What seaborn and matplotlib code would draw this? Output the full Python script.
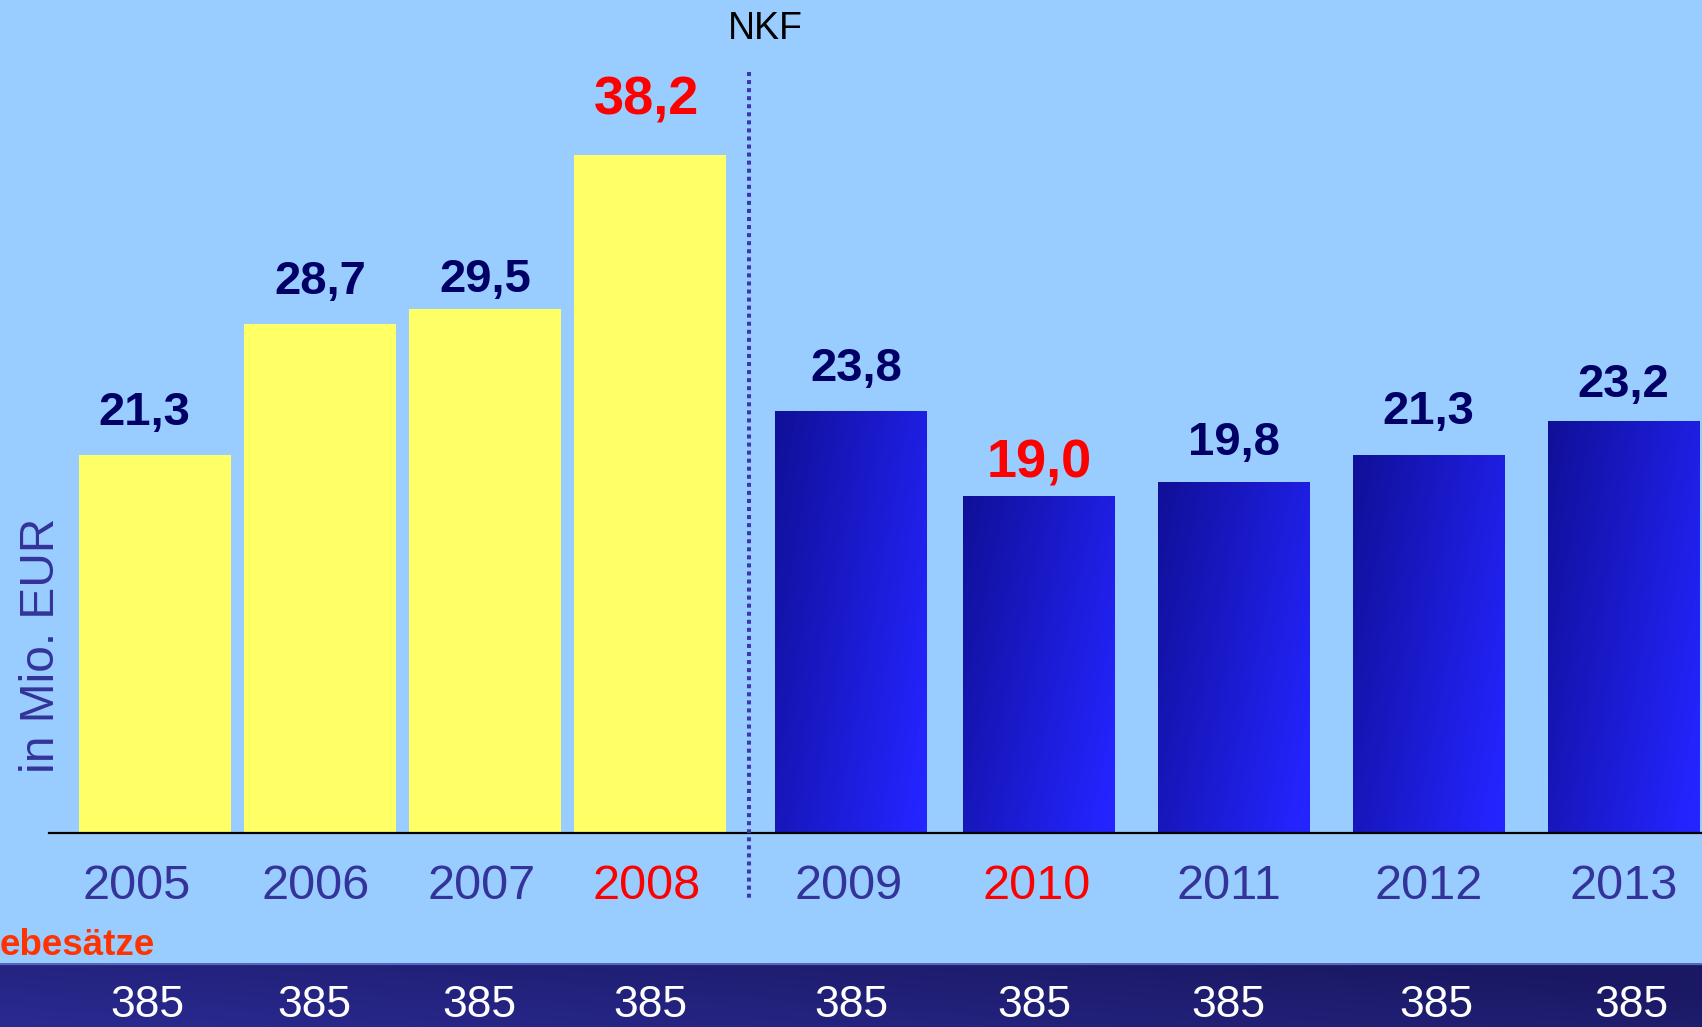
import numpy as np
import pandas as pd
import matplotlib
matplotlib.use("Agg")
import matplotlib.pyplot as plt
import matplotlib.transforms as mtransforms
import seaborn as sns

# ---------------- data ----------------
years = ["2005", "2006", "2007", "2008", "2009", "2010", "2011", "2012", "2013"]
values = [21.3, 28.7, 29.5, 38.2, 23.8, 19.0, 19.8, 21.3, 23.2]
value_labels = ["21,3", "28,7", "29,5", "38,2", "23,8", "19,0", "19,8", "21,3", "23,2"]
era = ["alt", "alt", "alt", "alt", "NKF", "NKF", "NKF", "NKF", "NKF"]
highlight = [False, False, False, True, False, True, False, False, False]
hebesaetze = ["385", "385", "385", "385", "385", "385", "385", "385", "385"]
row_label = "ebesätze"
ylabel = "in Mio. EUR"
divider_label = "NKF"

# ---------------- layout ----------------
W, H = 1702, 1027
slots = [0.0, 1.0, 2.0, 3.0, 4.22, 5.36, 6.54, 7.72, 8.90]
label_gap_px = [30, 30, 17, 40, 30, 18, 27, 31, 24]
label_dx_px = [-11, 0, 0, -4, 5, 0, 0, 0, 0]
year_dx_px = [-18, -4, -3, -3, -3, -3, -5, 0, 0]
hebe_dx_px = [-8, -6, -6, 0, 0, -5, -6, 8, 8]
divider_slot = 3.6
px_per_unit = 17.75
axis_y_px = 833
ax_left_px = 49

BG = "#99CCFF"
NAVY = "#000066"
YEARCOL = "#333399"
RED = "#FF0000"

sns.set_theme(style="white")
plt.rcParams["font.family"] = ["Liberation Sans", "DejaVu Sans"]

fig = plt.figure(figsize=(W / 100, H / 100), dpi=100, facecolor=BG)

# bottom band (behind everything else)
band_h = (H - 963) / H
band_ax = fig.add_axes([0, 0, 1, band_h])
band_ax.set_zorder(-1)
u = np.linspace(0, 1, 300)[None, :]
v = np.linspace(0, 1, 40)[:, None]
t = np.clip(0.75 * u + 0.35 * v, 0, 1)
cA = np.array([0x2A, 0x2A, 0x92]) / 255
cB = np.array([0x1A, 0x18, 0x62]) / 255
img = cA[None, None, :] * (1 - t[..., None]) + cB[None, None, :] * t[..., None]
band_ax.imshow(img, extent=[0, 1, 0, 1], origin="lower", aspect="auto")
band_ax.axhline(0.985, color="#5566BB", lw=1.6)
band_ax.set_xlim(0, 1)
band_ax.set_ylim(0, 1)
band_ax.axis("off")

# main axes
ax = fig.add_axes([ax_left_px / W, (H - axis_y_px) / H, (W - ax_left_px) / W, axis_y_px / H])
ax.set_facecolor("none")

df = pd.DataFrame({"slot": slots, "value": values, "era": era})
sns.barplot(data=df, x="slot", y="value", hue="era",
            palette={"alt": "#FFFF66", "NKF": "#1A1AD0"},
            native_scale=True, width=0.921, dodge=False, legend=False,
            errorbar=None, saturation=1, linewidth=0, edgecolor="none", ax=ax)

# gradient fill for NKF bars
gu = np.linspace(0, 1, 120)[None, :]
gv = np.linspace(0, 1, 120)[:, None]
gt = np.clip(0.72 * gu + 0.35 * (1 - gv), 0, 1)
c0 = np.array([0x10, 0x10, 0x98]) / 255
c1 = np.array([0x24, 0x24, 0xFF]) / 255
grad = c0[None, None, :] * (1 - gt[..., None]) + c1[None, None, :] * gt[..., None]
for p in list(ax.patches):
    x0, w = p.get_x(), p.get_width()
    if x0 + w / 2 > divider_slot:
        y0, h = p.get_y(), p.get_height()
        im = ax.imshow(grad, extent=[x0, x0 + w, y0, y0 + h], origin="lower",
                       aspect="auto", zorder=p.get_zorder() + 0.1)
        im.set_clip_path(p)

xmin = (ax_left_px - 155) / 165
xmax = (W - 155) / 165
ax.set_xlim(xmin, xmax)
ax.set_ylim(0, axis_y_px / px_per_unit)

# value labels
for s, val, lab, hl, gap, dx in zip(slots, values, value_labels, highlight, label_gap_px, label_dx_px):
    ax.annotate(lab, (s, val), xytext=(dx, gap), textcoords="offset pixels",
                ha="center", va="baseline", fontweight="bold",
                fontsize=39 if hl else 34, color=RED if hl else NAVY)

# spines & ticks
for sp in ["top", "right", "left"]:
    ax.spines[sp].set_visible(False)
ax.spines["bottom"].set_color("black")
ax.spines["bottom"].set_linewidth(1.6)
ax.set_yticks([])
ax.set_ylabel("")
ax.set_xlabel("")
ax.set_xticks(slots)
ax.set_xticklabels(years, fontsize=35)
ax.tick_params(axis="x", length=0, pad=22)
for lbl, hl, dx in zip(ax.get_xticklabels(), highlight, year_dx_px):
    lbl.set_color(RED if hl else YEARCOL)
    lbl.set_transform(lbl.get_transform() + mtransforms.Affine2D().translate(dx, 0))

# NKF divider
blend_ax = mtransforms.blended_transform_factory(ax.transData, ax.transAxes)
ax.plot([divider_slot, divider_slot], [(axis_y_px - 72) / axis_y_px, (axis_y_px - 899) / axis_y_px],
        transform=blend_ax, color="#3A3AAA", lw=2.9, linestyle=(0, (1, 1)),
        dash_capstyle="butt", clip_on=False, zorder=5)
blend_fig = mtransforms.blended_transform_factory(ax.transData, fig.transFigure)
ax.text(divider_slot + 0.097, 1 - 29 / H, divider_label, transform=blend_fig,
        ha="center", va="center", fontsize=27, color="black", clip_on=False)

# Hebesätze row
for s, hv, dx in zip(slots, hebesaetze, hebe_dx_px):
    ax.text(s + dx / 165, 1 - 1017 / H, hv, transform=blend_fig, ha="center", va="baseline",
            fontsize=32, color="white", clip_on=False, zorder=6)
fig.text(0, 1 - 955 / H, row_label, ha="left", va="baseline", fontsize=26.5,
         fontweight="bold", color="#FF3300")

# y label
fig.text(42 / W, 1 - 645 / H, ylabel, rotation=90, ha="center", va="center",
         fontsize=34.5, color=YEARCOL)

fig.savefig("out.png", dpi=100, facecolor=fig.get_facecolor())
